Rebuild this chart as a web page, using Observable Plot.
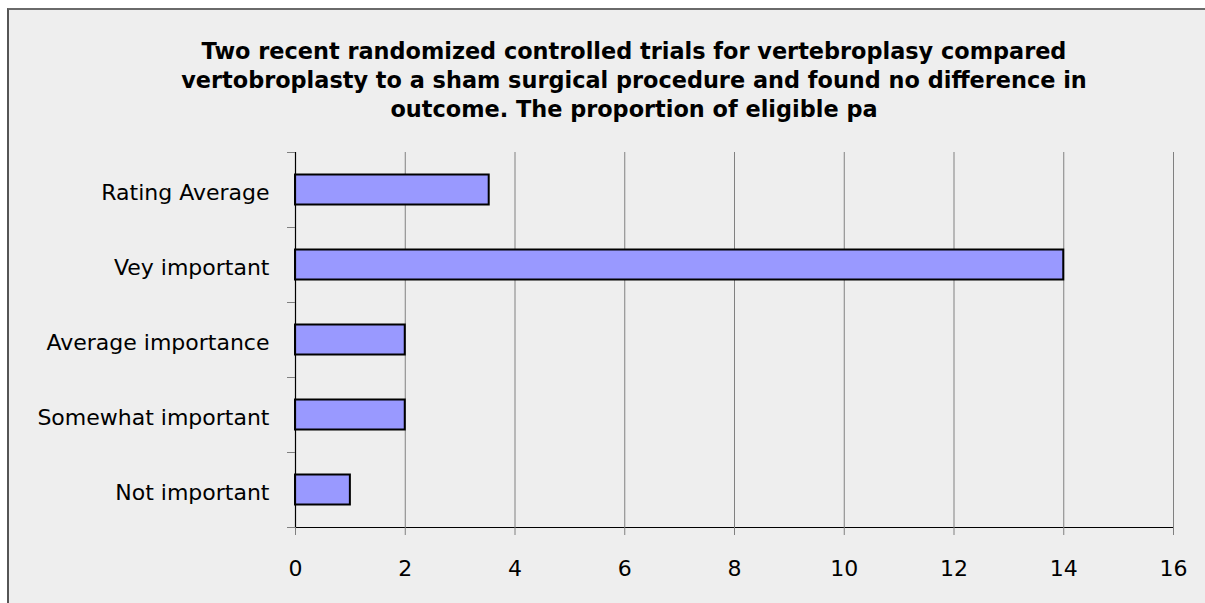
<!DOCTYPE html>
<html>
<head>
<meta charset="utf-8">
<script src="https://cdn.jsdelivr.net/npm/d3@7"></script>
<script src="https://cdn.jsdelivr.net/npm/@observablehq/plot@0.6"></script>
<style>
  html, body { margin: 0; padding: 0; background: #ffffff; overflow: hidden; }
  #wrap { position: relative; width: 1205px; height: 603px; overflow: hidden; }
  #bg { position: absolute; left: 7px; top: 8px; width: 1400px; height: 800px;
        background: #eeeeee; border-top: 2px solid #6a6a6a; border-left: 2px solid #555555; }
  #title { position: absolute; left: 0; top: 37px; width: 1268px; text-align: center;
           font-family: "DejaVu Sans", sans-serif; font-weight: bold; font-size: 22.4px;
           line-height: 29px; color: #000; white-space: nowrap; }
  #chart { position: absolute; left: 0; top: 0; }
</style>
</head>
<body>
<div id="wrap">
  <div id="bg"></div>
  <div id="title"></div>
  <div id="chart"></div>
</div>
<script>
const categories = ["Not important", "Somewhat important", "Average importance", "Vey important", "Rating Average"];
const values = [1, 2, 2, 14, 3.53];
const xTicks = [0, 2, 4, 6, 8, 10, 12, 14, 16];
const titleLines = [
  "Two recent randomized controlled trials for vertebroplasy compared",
  "vertobroplasty to a sham surgical procedure and found no difference in",
  "outcome. The proportion of eligible pa"
];

const titleEl = document.getElementById("title");
titleLines.forEach((t, i) => {
  const d = document.createElement("div");
  d.textContent = t;
  titleEl.appendChild(d);
});

const data = categories.map((c, i) => ({category: c, idx: i, value: values[i]}));
const boundaries = d3.range(0, categories.length + 1);

const chart = Plot.plot({
  width: 1205,
  height: 603,
  marginLeft: 295,
  marginRight: 32,
  marginTop: 152,
  marginBottom: 76,
  style: {background: "transparent", fontFamily: "DejaVu Sans", fontSize: "22px", color: "#000", overflow: "hidden"},
  x: {domain: [0, 16], label: null},
  y: {domain: [0, categories.length], label: null},
  marks: [
    Plot.gridX(xTicks, {stroke: "#808080", strokeOpacity: 1, strokeWidth: 1}),
    Plot.rectX(data, {
      x1: 0, x2: "value", y1: "idx", y2: d => d.idx + 1,
      insetTop: 22.5, insetBottom: 22.5,
      fill: "#9999ff", stroke: "#000", strokeWidth: 2
    }),
    Plot.ruleX([0], {stroke: "#000", strokeWidth: 1.2}),
    Plot.ruleY([0], {stroke: "#000", strokeWidth: 1.2}),
    Plot.axisX({ticks: xTicks, tickSize: 8, tickPadding: 25, stroke: "#808080", fill: "#000",
                tickFormat: d => String(d), fontSize: 22, label: null}),
    Plot.axisY({ticks: boundaries, tickSize: 8, stroke: "#808080", tickFormat: () => "", label: null}),
    Plot.axisY({ticks: data.map(d => d.idx + 0.5), tickSize: 0, tickPadding: 26, fill: "#000",
                tickFormat: v => categories[Math.floor(v)], fontSize: 22, dy: 2.5, label: null})
  ]
});
document.getElementById("chart").appendChild(chart);
</script>
</body>
</html>
